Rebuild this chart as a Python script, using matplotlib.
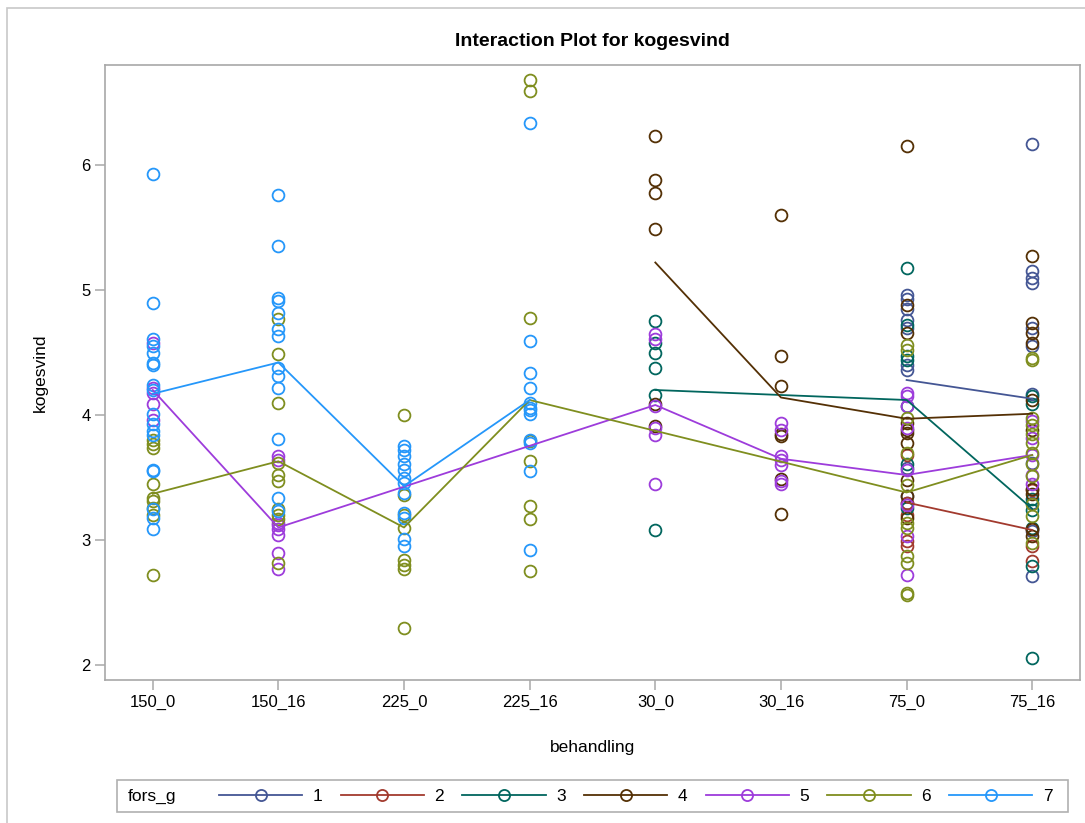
import matplotlib
matplotlib.use("Agg")
import matplotlib.pyplot as plt
from matplotlib.lines import Line2D
from matplotlib.patches import Rectangle

plt.rcParams["font.family"] = ["Liberation Sans", "DejaVu Sans"]

# --- DADOS ---
behandling = ["150_0", "150_16", "225_0", "225_16", "30_0", "30_16", "75_0", "75_16"]
grupos = ["1", "2", "3", "4", "5", "6", "7"]
cores = ["#445694", "#A23A2E", "#01665E", "#543005", "#9D3CDB", "#7F8E1F", "#2597FA"]

# observações por grupo: {categoria: valores}
obs_1 = {
    "75_0": [4.96, 4.93, 4.85, 4.76, 4.70, 4.40, 4.36, 3.58, 3.35, 3.30],
    "75_16": [6.17, 5.15, 5.10, 5.06, 4.70, 4.55, 4.17, 3.62, 3.30, 3.07, 2.71],
}
obs_2 = {
    "75_0": [3.68, 3.30, 3.20, 2.99, 2.95],
    "75_16": [3.40, 3.09, 2.95, 2.83],
}
obs_3 = {
    "30_0": [4.75, 4.58, 4.50, 4.38, 4.16, 3.08],
    "75_0": [5.18, 4.72, 4.47, 4.44, 4.07, 3.61, 3.26],
    "75_16": [4.15, 4.09, 3.33, 3.24, 3.10, 2.79, 2.06],
}
obs_4 = {
    "30_0": [6.23, 5.88, 5.78, 5.49, 4.09, 3.91],
    "30_16": [5.60, 4.47, 4.23, 3.85, 3.83, 3.49, 3.21],
    "75_0": [6.15, 4.88, 4.66, 3.94, 3.88, 3.86, 3.78, 3.48, 3.35, 3.18],
    "75_16": [5.27, 4.74, 4.66, 4.58, 4.12, 3.88, 3.41, 3.37, 3.09, 3.03],
}
obs_5 = {
    "150_0": [4.58, 4.22, 4.18, 4.09, 3.96],
    "150_16": [3.67, 3.64, 3.14, 3.12, 3.09, 3.04, 2.90, 2.77],
    "30_0": [4.65, 4.61, 4.07, 3.90, 3.84, 3.45],
    "30_16": [3.94, 3.88, 3.67, 3.64, 3.60, 3.47, 3.45],
    "75_0": [4.18, 4.15, 4.07, 3.90, 3.56, 3.28, 3.03, 2.72],
    "75_16": [3.95, 3.82, 3.68, 3.52, 3.45],
}
obs_6 = {
    "150_0": [3.80, 3.77, 3.74, 3.45, 3.34, 3.31, 3.26, 3.20, 2.72],
    "150_16": [4.77, 4.49, 4.10, 3.62, 3.52, 3.47, 3.25, 3.20, 3.17, 2.82],
    "225_0": [4.00, 3.36, 3.20, 3.10, 2.84, 2.80, 2.77, 2.30],
    "225_16": [6.68, 6.59, 4.78, 3.79, 3.63, 3.27, 3.17, 2.75],
    "75_0": [4.56, 4.52, 3.98, 3.70, 3.44, 3.14, 3.10, 2.87, 2.82, 2.58, 2.56],
    "75_16": [4.46, 4.44, 3.98, 3.92, 3.85, 3.78, 3.70, 3.61, 3.51, 3.29, 3.19, 2.98],
}
obs_7 = {
    "150_0": [5.93, 4.90, 4.61, 4.55, 4.50, 4.42, 4.40, 4.24, 4.20, 4.01, 3.93,
              3.87, 3.84, 3.56, 3.55, 3.25, 3.18, 3.09],
    "150_16": [5.76, 5.35, 4.94, 4.91, 4.82, 4.69, 4.63, 4.38, 4.31, 4.22, 3.81, 3.34, 3.23],
    "225_0": [3.75, 3.72, 3.67, 3.61, 3.56, 3.50, 3.46, 3.38, 3.22, 3.18, 3.01, 2.95],
    "225_16": [6.34, 4.59, 4.34, 4.22, 4.10, 4.06, 4.04, 4.01, 3.80, 3.78, 3.55, 2.92],
}

# médias por grupo (None = sem dados)
media_1 = [None, None, None, None, None, None, 4.28, 4.13]
media_2 = [None, None, None, None, None, None, 3.30, 3.08]
media_3 = [None, None, None, None, 4.20, None, 4.12, 3.25]
media_4 = [None, None, None, None, 5.22, 4.14, 3.97, 4.01]
media_5 = [4.20, 3.10, None, None, 4.08, 3.65, 3.52, 3.68]
media_6 = [3.37, 3.63, 3.10, 4.12, None, None, 3.38, 3.68]
media_7 = [4.17, 4.42, 3.43, 4.12, None, None, None, None]

observacoes = [obs_1, obs_2, obs_3, obs_4, obs_5, obs_6, obs_7]
medias = [media_1, media_2, media_3, media_4, media_5, media_6, media_7]

# --- FIGURA ---
fig = plt.figure(figsize=(10.85, 8.23), dpi=100)
ax = fig.add_axes([105 / 1085, 1 - 680 / 823, 975 / 1085, 615 / 823])

posicao = {c: i for i, c in enumerate(behandling)}

# pontos observados
for obs, cor in zip(observacoes, cores):
    for cat, valores in obs.items():
        ax.plot([posicao[cat]] * len(valores), valores, linestyle="none",
                marker="o", markersize=8.5, markerfacecolor="none",
                markeredgecolor=cor, markeredgewidth=1.3, zorder=2)

# linhas das médias (ligando só categorias com dados)
for media, cor in zip(medias, cores):
    xs = [i for i, m in enumerate(media) if m is not None]
    ys = [m for m in media if m is not None]
    ax.plot(xs, ys, color=cor, linewidth=1.3, zorder=3)

ax.set_xlim(-0.38, 7.38)
ax.set_ylim(1.88, 6.8)
ax.set_xticks(range(len(behandling)))
ax.set_xticklabels(behandling)
ax.set_yticks([2, 3, 4, 5, 6])

for s in ax.spines.values():
    s.set_color("#a8a8a8")
    s.set_linewidth(1.2)
ax.tick_params(colors="#a8a8a8", labelcolor="black", labelsize=12,
               length=7, width=1.1, direction="out")
ax.tick_params(axis="x", pad=4)
ax.set_xlabel("behandling", fontsize=12.5, labelpad=21)
ax.set_ylabel("kogesvind", fontsize=12.5, labelpad=24)
fig.text(592 / 1085, 1 - 42 / 823, "Interaction Plot for kogesvind",
         ha="center", va="center", fontsize=14, fontweight="bold")

# --- LEGENDA ---
fig.patches.append(Rectangle((117 / 1085, 1 - 812 / 823), 951 / 1085, 32 / 823,
                             transform=fig.transFigure, fill=False,
                             edgecolor="#b0b0b0", linewidth=1.2))
fig.text(128 / 1085, 1 - 796 / 823, "fors_g", ha="left", va="center", fontsize=12.5)
handles = [Line2D([], [], color=c, linewidth=1.3, marker="o", markersize=8,
                  markerfacecolor="none", markeredgewidth=1.3) for c in cores]
fig.legend(handles, grupos, loc="center left", ncol=7, frameon=False,
           bbox_to_anchor=(219 / 1085, 1 - 796 / 823), fontsize=12.5,
           handlelength=4.8, handletextpad=0.6, columnspacing=1.05,
           borderaxespad=0, borderpad=0)

# moldura externa
fig.patches.append(Rectangle((7 / 1085, -0.01), 1.02, 1.01 - 8 / 823,
                             transform=fig.transFigure, fill=False,
                             edgecolor="#c8c8c8", linewidth=1.2))

fig.savefig("out.png", dpi=100)
